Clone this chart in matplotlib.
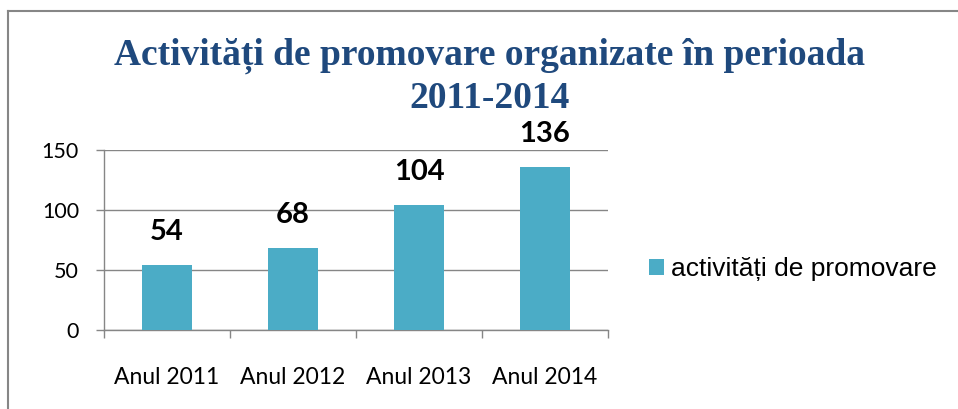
import matplotlib
matplotlib.use("Agg")
import matplotlib.pyplot as plt
from matplotlib.lines import Line2D

# date
categorii = ["Anul 2011", "Anul 2012", "Anul 2013", "Anul 2014"]
valori = [54, 68, 104, 136]
serie = "activități de promovare"
titlu1 = "Activități de promovare organizate în perioada"
titlu2 = "2011-2014"

plt.rcParams["font.family"] = ["Lato", "DejaVu Sans"]

W, H = 958, 409
fig = plt.figure(figsize=(W / 100, H / 100), dpi=100)
fig.patch.set_facecolor("white")

gri = "#868686"
albastru = "#4BACC6"

# chenar (doar sus si stanga)
fig.add_artist(Line2D([8 / W, 1.0], [1 - 11 / H, 1 - 11 / H], color=gri, lw=1.5,
                      transform=fig.transFigure))
fig.add_artist(Line2D([8 / W, 8 / W], [0.0, 1 - 11 / H], color=gri, lw=1.5,
                      transform=fig.transFigure))

ax = fig.add_axes([104 / W, 1 - 330 / H, (608 - 104) / W, 180 / H])
x = range(len(valori))
bare = ax.bar(x, valori, width=0.4, color=albastru, label=serie, zorder=3)

ax.set_xlim(-0.5, len(valori) - 0.5)
ax.set_ylim(0, 150)
ax.set_yticks([0, 50, 100, 150])
ax.yaxis.grid(True, color=gri, lw=1.0, zorder=0)
ax.set_axisbelow(True)

for s in ["top", "right"]:
    ax.spines[s].set_visible(False)
for s in ["left", "bottom"]:
    ax.spines[s].set_color(gri)
    ax.spines[s].set_linewidth(1.0)

ax.tick_params(axis="y", length=6, width=1.0, color=gri, pad=12,
               labelsize=15.5)
# liniute intre categorii, etichete pe centru
ax.set_xticks([i - 0.5 for i in range(len(valori) + 1)])
ax.set_xticklabels([""] * (len(valori) + 1))
ax.tick_params(axis="x", which="major", length=6, width=1.0, color=gri)
ax.set_xticks(list(x), minor=True)
ax.set_xticklabels(categorii, minor=True)
ax.tick_params(axis="x", which="minor", length=0, pad=27, labelsize=16.5)

for b, v in zip(bare, valori):
    ax.annotate(str(v), (b.get_x() + b.get_width() / 2, v), xytext=(0, 18),
                textcoords="offset points", ha="center", va="baseline",
                fontsize=21, fontweight="bold")

# titlu
for txt, yb in [(titlu1, 65), (titlu2, 108)]:
    fig.text(490 / W, 1 - yb / H, txt, ha="center", va="baseline",
             fontsize=27, fontweight="bold", family="Liberation Serif",
             color="#1F497D")

ax.legend(loc="center left", bbox_to_anchor=(649 / W, 1 - 269 / H),
          bbox_transform=fig.transFigure, frameon=False, borderpad=0,
          borderaxespad=0, handlelength=0.55, handleheight=0.55,
          handletextpad=0.3, prop={"family": "Liberation Sans", "size": 19})

fig.savefig("out.png", dpi=100)
